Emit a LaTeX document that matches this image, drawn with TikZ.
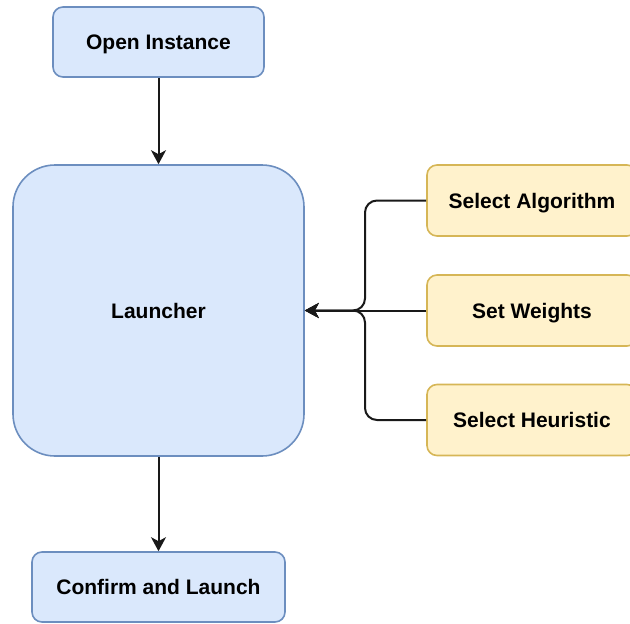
\documentclass[tikz,border=0pt]{standalone}
\usepackage{fontspec}
\setmainfont{Liberation Sans}
\usetikzlibrary{arrows.meta}
\definecolor{bluefill}{HTML}{DAE8FC}
\definecolor{bluedraw}{HTML}{6C8EBF}
\definecolor{yellowfill}{HTML}{FFF2CC}
\definecolor{yellowdraw}{HTML}{D6B656}
\begin{document}
\begin{tikzpicture}[x=1pt,y=-1pt,
  box/.style={draw, line width=1.6pt, rounded corners=10pt, align=center,
    font=\fontsize{21}{25}\selectfont\bfseries, inner sep=0pt,
    text height=15pt, text depth=0pt},
  bluebox/.style={box, draw=bluedraw, fill=bluefill},
  yellowbox/.style={box, draw=yellowdraw, fill=yellowfill},
  conn/.style={draw=black!90, line width=2pt,
    -{Stealth[length=14pt,width=15pt,inset=4pt]}}
]
\useasboundingbox (0,0) rectangle (630,624);
\clip (0,0) rectangle (630,624);

% main column
\node[bluebox, minimum width=211pt, minimum height=70pt] (open) at (158.5,42) {Open Instance};
\node[bluebox, rounded corners=42pt, minimum width=291pt, minimum height=291pt] (launcher) at (158.5,310.5) {Launcher};
\node[bluebox, minimum width=253pt, minimum height=70pt] (confirm) at (158.5,587) {Confirm and Launch};

% options on the right (boxes run past the page edge)
\node[yellowbox, minimum width=210pt, minimum height=71pt] (alg) at (532,200.5) {Select Algorithm};
\node[yellowbox, minimum width=210pt, minimum height=71pt] (wts) at (532,310.5) {Set Weights};
\node[yellowbox, minimum width=210pt, minimum height=71pt] (heur) at (532,420) {Select Heuristic};

% branch point of the merged connectors
\coordinate (bx) at (365,310.5);

\draw[conn] (open.south) -- (launcher.north);
\draw[conn] (launcher.south) -- (confirm.north);
\draw[conn, rounded corners=12pt] (alg.west) -| (bx) -- (launcher.east);
\draw[conn] (wts.west) -- (launcher.east);
\draw[conn, rounded corners=12pt] (heur.west) -| (bx) -- (launcher.east);
\end{tikzpicture}
\end{document}
